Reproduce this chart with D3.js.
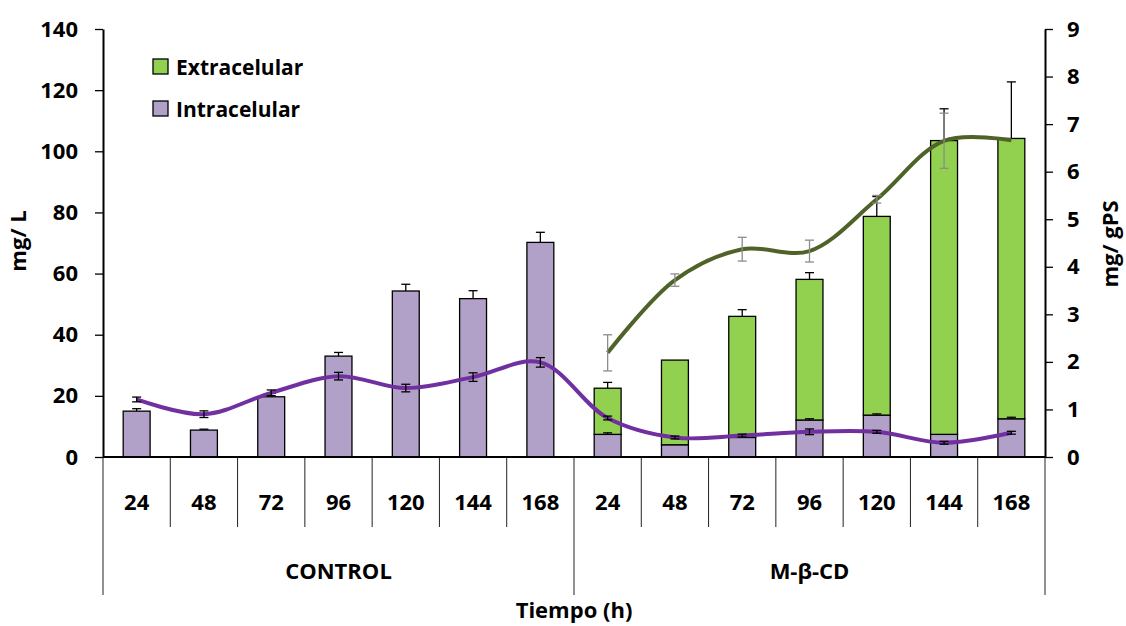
<!DOCTYPE html>
<html>
<head>
<meta charset="utf-8">
<script src="https://cdn.jsdelivr.net/npm/d3@7/dist/d3.min.js"></script>
<style>
  html, body { margin: 0; padding: 0; background: #fff; }
  svg text { font-family: "Open Sans", Lato, sans-serif; font-weight: 700; fill: #000; }
</style>
</head>
<body>
<svg id="chart" width="1126" height="626"></svg>
<script>
// ---- data ----
const groups = ["CONTROL", "M-β-CD"];
const hours = ["24", "48", "72", "96", "120", "144", "168"];
const seriesNames = ["Extracelular", "Intracelular"];
// bars (mg/L, left axis)
const intraBar    = [15.0, 8.8, 19.7, 33.0, 54.3, 51.8, 70.2, 7.4, 4.0, 6.4, 12.1, 13.7, 7.4, 12.5];
const intraBarErr = [0.8, 0.3, 1.1, 1.2, 2.2, 2.6, 3.3, 0.5, 0, 0, 0.4, 0.4, 0, 0.5];
const extraBar    = [0, 0, 0, 0, 0, 0, 0, 15.1, 27.7, 39.6, 46.0, 65.0, 96.1, 91.7];
const extraBarErr = [0, 0, 0, 0, 0, 0, 0, 1.9, 0, 2.2, 2.2, 6.5, 10.4, 18.5];
// lines (mg/gPS, right axis)
const intraLine    = [1.21, 0.90, 1.35, 1.70, 1.45, 1.68, 1.99, 0.82, 0.41, 0.45, 0.53, 0.53, 0.30, 0.51];
const intraLineErr = [0.05, 0.07, 0.06, 0.08, 0.08, 0.09, 0.10, 0.04, 0.03, 0.03, 0.06, 0.03, 0.03, 0.03];
const extraLine    = [null, null, null, null, null, null, null, 2.19, 3.72, 4.37, 4.33, 5.42, 6.65, 6.66];
const extraLineErr = [0, 0, 0, 0, 0, 0, 0, 0.38, 0.13, 0.25, 0.23, 0.08, 0.58, 0];
const leftTicks = [0, 20, 40, 60, 80, 100, 120, 140];
const rightTicks = [0, 1, 2, 3, 4, 5, 6, 7, 8, 9];

// ---- layout ----
const colIntra = "#B1A0C7", colExtra = "#92D050";
const colLineIntra = "#7030A0", colLineExtra = "#4F6228";
const L = 103, R = 1045, T = 29, B = 457;
const FS = "22px";

const keys = [];
groups.forEach(g => hours.forEach(h => keys.push(g + "|" + h)));
const rows = keys.map((k, i) => ({
  key: k, group: k.split("|")[0], hour: k.split("|")[1],
  intra: intraBar[i], intraErr: intraBarErr[i],
  extra: extraBar[i], extraErr: extraBarErr[i],
  li: intraLine[i], liErr: intraLineErr[i],
  le: extraLine[i], leErr: extraLineErr[i]
}));

const svg = d3.select("#chart");
const x = d3.scaleBand().domain(keys).range([L, R]).paddingInner(0.6).paddingOuter(0.3);
const yL = d3.scaleLinear().domain([0, 140]).range([B, T]);
const yR = d3.scaleLinear().domain([0, 9]).range([B, T]);
const cx = k => x(k) + x.bandwidth() / 2;

// bars
const gBars = svg.append("g");
gBars.selectAll("rect.intra").data(rows).join("rect")
  .attr("x", d => x(d.key)).attr("width", x.bandwidth())
  .attr("y", d => yL(d.intra)).attr("height", d => yL(0) - yL(d.intra))
  .attr("fill", colIntra).attr("stroke", "#000").attr("stroke-width", 1.3);
gBars.selectAll("rect.extra").data(rows.filter(d => d.extra > 0)).join("rect")
  .attr("x", d => x(d.key)).attr("width", x.bandwidth())
  .attr("y", d => yL(d.intra + d.extra)).attr("height", d => yL(d.intra) - yL(d.intra + d.extra))
  .attr("fill", colExtra).attr("stroke", "#000").attr("stroke-width", 1.3);

// error bar helpers
function errBar(g, xc, y0, y1, color, w) {
  g.append("line").attr("x1", xc).attr("x2", xc).attr("y1", y0).attr("y2", y1)
    .attr("stroke", color).attr("stroke-width", w);
  [y0, y1].forEach(yy => g.append("line").attr("x1", xc - 4.5).attr("x2", xc + 4.5)
    .attr("y1", yy).attr("y2", yy).attr("stroke", color).attr("stroke-width", w));
}
function errTop(g, xc, yTop, yEnd, color, w) {
  g.append("line").attr("x1", xc).attr("x2", xc).attr("y1", yTop).attr("y2", yEnd)
    .attr("stroke", color).attr("stroke-width", w);
  g.append("line").attr("x1", xc - 4.5).attr("x2", xc + 4.5)
    .attr("y1", yEnd).attr("y2", yEnd).attr("stroke", color).attr("stroke-width", w);
}

// bar error bars (upper only)
const gErrB = svg.append("g");
rows.forEach(d => {
  if (d.intraErr > 0) errTop(gErrB, cx(d.key), yL(d.intra), yL(d.intra + d.intraErr), "#000", 1.3);
  if (d.extra > 0 && d.extraErr > 0)
    errTop(gErrB, cx(d.key), yL(d.intra + d.extra), yL(d.intra + d.extra + d.extraErr), "#000", 1.3);
});

// lines
const line = (acc) => d3.line().defined(d => acc(d) != null)
  .x(d => cx(d.key)).y(d => yR(acc(d))).curve(d3.curveCatmullRom.alpha(0.5));
svg.append("path").datum(rows).attr("d", line(d => d.li))
  .attr("fill", "none").attr("stroke", colLineIntra).attr("stroke-width", 4);
svg.append("path").datum(rows.filter(d => d.le != null)).attr("d", line(d => d.le))
  .attr("fill", "none").attr("stroke", colLineExtra).attr("stroke-width", 4);

// line error bars
const gErrL = svg.append("g");
rows.forEach(d => {
  errBar(gErrL, cx(d.key), yR(d.li - d.liErr), yR(d.li + d.liErr), "#000", 1.3);
  if (d.le != null && d.leErr > 0)
    errBar(gErrL, cx(d.key), yR(d.le - d.leErr), yR(d.le + d.leErr), "#8c8c8c", 1.3);
});

// axes
const axL = svg.append("g").attr("transform", `translate(${L},0)`)
  .call(d3.axisLeft(yL).tickValues(leftTicks).tickSize(8).tickSizeOuter(0).tickPadding(17));
const axR = svg.append("g").attr("transform", `translate(${R},0)`)
  .call(d3.axisRight(yR).tickValues(rightTicks).tickSize(8).tickSizeOuter(0).tickPadding(14));
[axL, axR].forEach(a => {
  a.select(".domain").attr("stroke", "#000").attr("stroke-width", 2);
  a.selectAll(".tick line").attr("stroke", "#000").attr("stroke-width", 1.3);
  a.selectAll(".tick text").style("font-family", "'Open Sans', sans-serif").style("font-weight", 700)
    .style("font-size", FS).attr("fill", "#000");
});

// category axis (x)
const step = x.step();
const x0 = x.range()[0];
const gx = svg.append("g");
d3.range(keys.length + 1).forEach(i => {
  const xx = x0 + i * step;
  const isGroup = i % hours.length === 0;
  gx.append("line").attr("x1", xx).attr("x2", xx).attr("y1", B).attr("y2", isGroup ? 595 : 527)
    .attr("stroke", "#222").attr("stroke-width", 1);
});
gx.append("line").attr("x1", L).attr("x2", R).attr("y1", B).attr("y2", B)
  .attr("stroke", "#000").attr("stroke-width", 2);
rows.forEach(d => {
  gx.append("text").attr("x", cx(d.key)).attr("y", 510).attr("text-anchor", "middle")
    .style("font-size", FS).text(d.hour);
});
groups.forEach((g, gi) => {
  const a = x0 + gi * hours.length * step, b = a + hours.length * step;
  gx.append("text").attr("x", (a + b) / 2).attr("y", 579).attr("text-anchor", "middle")
    .style("font-size", FS).text(g);
});

// axis titles
svg.append("text").attr("x", (L + R) / 2).attr("y", 618).attr("text-anchor", "middle")
  .style("font-size", FS).text("Tiempo (h)");
svg.append("text").attr("transform", "translate(26,241) rotate(-90)").attr("text-anchor", "middle")
  .style("font-size", FS).text("mg/ L");
svg.append("text").attr("transform", "translate(1118,244) rotate(-90)").attr("text-anchor", "middle")
  .style("font-size", FS).text("mg/ gPS");

// legend
const legCols = [colExtra, colIntra];
const gl = svg.append("g");
seriesNames.forEach((n, i) => {
  const yy = 59 + i * 42;
  gl.append("rect").attr("x", 153).attr("y", yy).attr("width", 15).attr("height", 15)
    .attr("fill", legCols[i]).attr("stroke", "#000").attr("stroke-width", 1.3);
  gl.append("text").attr("x", 176).attr("y", yy + 16).style("font-size", "21px").text(n);
});
</script>
</body>
</html>
